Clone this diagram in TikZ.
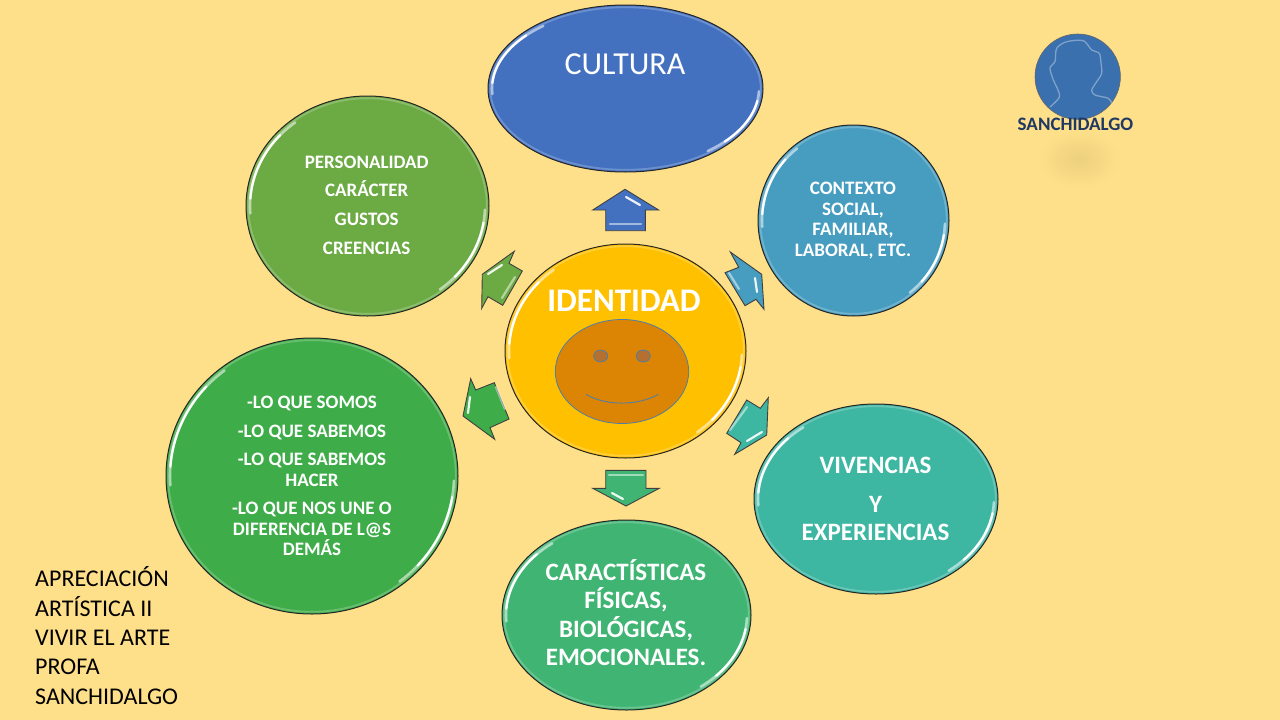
\documentclass[tikz,border=0pt]{standalone}
\usepackage{fontspec}
\setmainfont{Carlito}
\usetikzlibrary{shapes.geometric}
\definecolor{bgc}{HTML}{FFE08A}
\definecolor{cul}{HTML}{4371C0}
\definecolor{per}{HTML}{6CAA44}
\definecolor{con}{HTML}{469DBF}
\definecolor{viv}{HTML}{3DB6A2}
\definecolor{car}{HTML}{40B573}
\definecolor{loq}{HTML}{3EAC48}
\definecolor{ide}{HTML}{FFC000}
\definecolor{smi}{HTML}{DC8505}
\definecolor{sml}{HTML}{4F7FA6}
\definecolor{eye}{HTML}{B5702F}
\definecolor{ava}{HTML}{3A70AE}
\definecolor{nav}{HTML}{1F3864}
\definecolor{sha}{HTML}{EDD07E}
\tikzset{
 ovalbase/.style={ellipse,draw=black!85,line width=1pt,inner sep=0pt,outer sep=0pt},
 whitetxt/.style={text=white,align=center,inner sep=0pt},
 arrowshape/.style={draw=black!75,line width=0.9pt,line join=miter},
 shine/.style={white,line width=2.2pt,line cap=round,opacity=.9},
 paleshine/.style={white,line width=2.2pt,line cap=round,opacity=.5},
}
% name, cx, cy, rx, ry, colour
\newcommand{\glossyoval}[6]{%
 \node[ovalbase,fill=#6,minimum width=#4*2pt,minimum height=#5*2pt] (#1) at (#2,#3) {};
 \pgfmathsetmacro{\mrx}{#4-2.2}\pgfmathsetmacro{\mry}{#5-2.2}
 \pgfmathsetmacro{\irx}{#4-4}\pgfmathsetmacro{\iry}{#5-4}
 \draw[#6!78!white,line width=1.8pt] (#2,#3) ellipse[x radius=\mrx,y radius=\mry];
 \draw[#6!45!white,line width=2.6pt,line cap=round] (#2,#3) ++(176:\irx\space and \iry) arc[start angle=176,end angle=232,x radius=\irx,y radius=\iry];
 \draw[#6!45!white,line width=2.6pt,line cap=round] (#2,#3) ++(2:\irx\space and \iry) arc[start angle=2,end angle=52,x radius=\irx,y radius=\iry];
 \draw[white,line width=2.2pt,line cap=round] (#2,#3) ++(184:\irx\space and \iry) arc[start angle=184,end angle=222,x radius=\irx,y radius=\iry];
 \draw[white,line width=2.2pt,line cap=round] (#2,#3) ++(9:\irx\space and \iry) arc[start angle=9,end angle=42,x radius=\irx,y radius=\iry];
}
\begin{document}
\begin{tikzpicture}[x=1pt,y=-1pt]
\useasboundingbox (0,0) rectangle (1280,720);
\fill[bgc] (0,0) rectangle (1280,720);

% ovals
\glossyoval{cultura}{625.5}{88.5}{137.5}{83.5}{cul}
\glossyoval{personal}{367.5}{206}{121.5}{110}{per}
\glossyoval{contexto}{853.5}{220.5}{95.5}{95.5}{con}
\glossyoval{identidad}{625.5}{351}{120.5}{107}{ide}
\glossyoval{loque}{312}{476}{146}{138}{loq}
\glossyoval{vivencias}{876}{499}{122}{95}{viv}
\glossyoval{caract}{626.5}{615}{124.5}{95}{car}

% arrows
\draw[arrowshape,fill=cul] (625,189.3) -- (658.7,210) -- (645.3,210) -- (645.3,230.7) -- (605.7,230.7) -- (605.7,210) -- (592.7,210) -- cycle;
\draw[shine] (626,197) -- (640,205);
\draw[paleshine] (610,224) -- (641,224);

\draw[arrowshape,fill=con] (730.3,252) -- (761.7,274.3) -- (764,309.3) -- (756,299.3) -- (745,305.7) -- (725,272.7) -- (738.7,267.3) -- cycle;
\draw[shine] (755,278) -- (757,292);
\draw[paleshine] (729,273) -- (739,289);

\draw[arrowshape,fill=per] (514.3,251.3) -- (482.3,274.3) -- (481.7,308.3) -- (488,296.7) -- (502.7,305.3) -- (522.3,271) -- (509,263.3) -- cycle;
\draw[shine] (488,274) -- (502,265);
\draw[paleshine] (502,298) -- (515,277);

\draw[arrowshape,fill=loq] (470.7,378.7) -- (463,416) -- (494.7,439.3) -- (490,427.7) -- (509,419) -- (494.3,382.7) -- (475.7,390) -- cycle;
\draw[shine] (470,397) -- (468,413);
\draw[paleshine] (496,387) -- (505,409);

\draw[arrowshape,fill=viv] (768.3,397.7) -- (766.7,435) -- (734.7,454.3) -- (741,442.7) -- (726.7,433.3) -- (746.7,400) -- (760.3,408.3) -- cycle;
\draw[shine] (747,441) -- (762,432);
\draw[paleshine] (730,430) -- (747,407);

\draw[arrowshape,fill=car] (605.7,470.3) -- (646,470.3) -- (646,488.3) -- (659.3,488.3) -- (626,506) -- (592.7,488.3) -- (605.7,488.3) -- cycle;
\draw[paleshine] (609,475) -- (643,475);
\draw[shine] (612,493) -- (623,499);

% smiley
\node[ellipse,draw=sml,fill=smi,line width=.8pt,inner sep=0pt,minimum width=133.4pt,minimum height=104pt] (face) at (622,371.5) {};
\node[ellipse,draw=sml,fill=eye,line width=.8pt,inner sep=0pt,minimum width=14pt,minimum height=12pt] (eyeL) at (600.7,356) {};
\node[ellipse,draw=sml,fill=eye,line width=.8pt,inner sep=0pt,minimum width=14pt,minimum height=12pt] (eyeR) at (643.3,356) {};
\draw[sml,line width=.9pt] (586,394.3) .. controls (605,406) and (638,406) .. (658.3,394.3);

% avatar
\shade[inner color=sha,outer color=bgc] (1079,159) ellipse[x radius=42,y radius=30];
\node[circle,draw=black!60,fill=ava,line width=.6pt,inner sep=0pt,minimum size=85.4pt] (avatar) at (1077.7,76.7) {};
\draw[ava!65!white,line width=1.3pt] plot[smooth,tension=.5] coordinates {(1050,107) (1059.3,97.3) (1057.3,88.3) (1053.3,80) (1050,68) (1055,61.7) (1056.7,48.3) (1066.7,41.7) (1083.3,40.7) (1091.7,50) (1099.3,53.3) (1101,63.3) (1101.7,73.3) (1096.7,81.7) (1091.7,90) (1095,95) (1108.3,98.3) (1111.7,103)};

% texts
\node[inner sep=0pt,text=white,font=\fontsize{32}{34}\selectfont] (t1) at (625,64) {CULTURA};
\node[whitetxt,font=\fontsize{19}{28.7}\bfseries\selectfont] (t2) at (366.7,205) {PERSONALIDAD\\CARÁCTER\\GUSTOS\\CREENCIAS};
\node[whitetxt,font=\fontsize{19}{20.6}\bfseries\selectfont] (t3) at (853,220.5) {CONTEXTO\\SOCIAL,\\FAMILIAR,\\LABORAL, ETC.};
\node[whitetxt,font=\fontsize{33}{35}\bfseries\selectfont] (t4) at (624,301) {IDENTIDAD};
\node[whitetxt,font=\fontsize{19}{20.6}\bfseries\selectfont] (t5) at (312,476) {-LO QUE SOMOS\\[8pt]-LO QUE SABEMOS\\[8pt]-LO QUE SABEMOS\\HACER\\[7.5pt]-LO QUE NOS UNE O\\DIFERENCIA DE L@S\\DEMÁS};
\node[whitetxt,font=\fontsize{25}{28}\bfseries\selectfont] (t6) at (875.5,499) {VIVENCIAS\\[11pt]Y\\EXPERIENCIAS};
\node[whitetxt,font=\fontsize{25}{28.3}\bfseries\selectfont] (t7) at (626,612.5) {CARACTÍSTICAS\\FÍSICAS,\\BIOLÓGICAS,\\EMOCIONALES.};
\node[inner sep=0pt,text=nav,font=\fontsize{19}{21}\bfseries\selectfont] (t8) at (1075.5,124) {SANCHIDALGO};
\node[anchor=west,inner sep=0pt,align=left,text=black,font=\fontsize{24}{29.3}\selectfont] (t9) at (35,635.5) {APRECIACIÓN\\ARTÍSTICA II\\VIVIR EL ARTE\\PROFA\\SANCHIDALGO};
\end{tikzpicture}
\end{document}
